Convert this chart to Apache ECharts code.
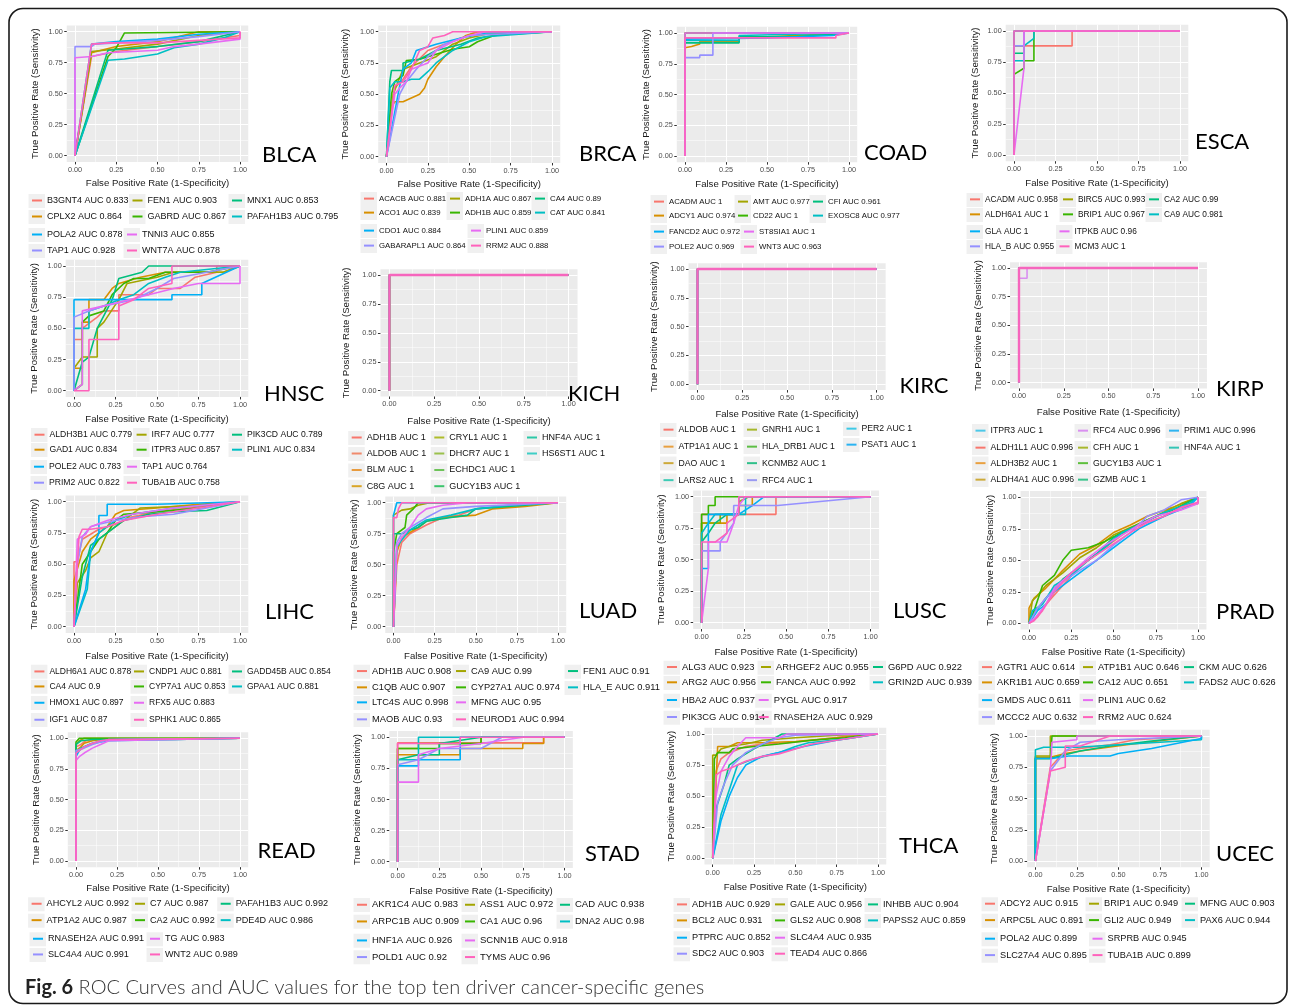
<!DOCTYPE html>
<html>
<head>
<meta charset="utf-8">
<script src="https://cdn.jsdelivr.net/npm/echarts@6/dist/echarts.min.js"></script>
<style>
html, body { margin: 0; padding: 0; background: #fff; }
#main { width: 1292px; height: 1006px; }
</style>
</head>
<body>
<div id="main"></div>
<script>
// tick values (ggplot style: major + minor grid)
const majorTicks = [0, 0.25, 0.5, 0.75, 1];
const minorTicks = [0.125, 0.375, 0.625, 0.875];

// ggplot default hue palette for 10 levels
const hue10 = ['#F8766D', '#D89000', '#A3A500', '#39B600', '#00BF7D', '#00BFC4', '#00B0F6', '#9590FF', '#E76BF3', '#FF62BC'];
const kichColors = ['#F8766D', '#F08A6C', '#E89B3E', '#D9A526', '#AEBC2A', '#9BC14C', '#6EC35A', '#3BC46C', '#2CC8A7', '#3ECEC6'];
const kircColors = ['#F8766D', '#E8A040', '#CDA93A', '#3ECBB5', '#A6B82C', '#5DBE45', '#2FC08A', '#9A9AF2', '#3DC9E6', '#2AB3F2'];
const kirpColors = ['#4CC8E8', '#F8766D', '#E9A040', '#CDAA3A', '#D98FF0', '#A8B82E', '#5DBF3C', '#36C38A', '#2FB4F0', '#35C5B5'];
const hiddenColor = '#F665BD';

// every AUC = 1 curve
const perfect = [[0, 0], [0, 1], [1, 1]];

// ---- BLCA
const blcaGenes = ['B3GNT4', 'CPLX2', 'FEN1', 'GABRD', 'MNX1', 'PAFAH1B3', 'POLA2', 'TAP1', 'TNNI3', 'WNT7A'];
const blcaAuc = [0.833, 0.864, 0.903, 0.867, 0.853, 0.795, 0.878, 0.928, 0.855, 0.878];
const blcaRoc = [
  [[0, 0], [0.1, 0.8], [0.25, 0.84], [0.5, 0.88], [0.75, 0.92], [1, 0.97], [1, 1]],
  [[0, 0], [0.1, 0.83], [0.25, 0.88], [0.5, 0.92], [0.75, 1], [1, 1]],
  [[0, 0], [0.1, 0.84], [0.25, 0.86], [0.5, 0.9], [0.75, 0.97], [1, 1]],
  [[0, 0], [0.2, 0.8], [0.25, 0.87], [0.3, 0.99], [1, 1]],
  [[0, 0], [0.2, 0.85], [0.3, 0.86], [0.5, 0.88], [0.75, 0.92], [1, 1]],
  [[0, 0], [0.2, 0.77], [0.3, 0.78], [0.4, 0.8], [0.5, 0.82], [0.6, 0.87], [0.75, 0.9], [0.9, 0.95], [1, 1]],
  [[0, 0], [0.1, 0.9], [0.25, 0.92], [0.5, 0.94], [0.75, 0.98], [1, 1]],
  [[0, 0], [0, 0.88], [0.1, 0.88], [0.12, 0.9], [0.5, 0.93], [0.75, 0.96], [1, 1]],
  [[0, 0], [0, 0.79], [0.1, 0.8], [0.2, 0.83], [0.5, 0.85], [0.6, 0.88], [0.75, 0.9], [1, 0.94], [1, 1]],
  [[0, 0], [0.1, 0.9], [0.2, 0.91], [0.5, 0.91], [0.75, 0.93], [1, 0.95], [1, 1]]
];

// ---- BRCA
const brcaGenes = ['ACACB', 'ACO1', 'ADH1A', 'ADH1B', 'CA4', 'CAT', 'CDO1', 'GABARAPL1', 'PLIN1', 'RRM2'];
const brcaAuc = [0.881, 0.839, 0.867, 0.859, 0.89, 0.841, 0.884, 0.864, 0.859, 0.888];
const brcaRoc = [
  [[0, 0], [0.05, 0.55], [0.1, 0.62], [0.15, 0.72], [0.25, 0.85], [0.35, 0.9], [0.45, 0.95], [0.55, 1], [1, 1]],
  [[0, 0], [0.03, 0.4], [0.05, 0.44], [0.1, 0.44], [0.15, 0.47], [0.2, 0.5], [0.23, 0.55], [0.25, 0.62], [0.3, 0.72], [0.35, 0.8], [0.42, 0.9], [0.48, 0.97], [0.55, 1], [1, 1]],
  [[0, 0], [0.04, 0.5], [0.1, 0.7], [0.2, 0.75], [0.3, 0.8], [0.4, 0.9], [0.5, 0.95], [0.6, 0.98], [1, 1]],
  [[0, 0], [0.03, 0.5], [0.05, 0.6], [0.1, 0.65], [0.12, 0.77], [0.2, 0.78], [0.3, 0.82], [0.4, 0.86], [0.5, 0.88], [0.55, 0.92], [0.65, 0.97], [0.75, 0.98], [1, 1]],
  [[0, 0], [0.02, 0.6], [0.03, 0.69], [0.1, 0.69], [0.1, 0.75], [0.2, 0.78], [0.3, 0.85], [0.45, 0.9], [0.55, 0.95], [0.7, 0.98], [1, 1]],
  [[0, 0], [0.02, 0.55], [0.05, 0.6], [0.1, 0.6], [0.15, 0.62], [0.2, 0.62], [0.25, 0.68], [0.3, 0.75], [0.4, 0.85], [0.5, 0.92], [0.6, 0.96], [1, 1]],
  [[0, 0], [0.07, 0.5], [0.1, 0.7], [0.15, 0.75], [0.18, 0.85], [0.3, 0.9], [0.45, 0.95], [0.6, 0.99], [1, 1]],
  [[0, 0], [0.08, 0.5], [0.12, 0.6], [0.18, 0.7], [0.25, 0.8], [0.35, 0.9], [0.5, 0.97], [1, 1]],
  [[0, 0], [0.05, 0.5], [0.08, 0.55], [0.12, 0.6], [0.15, 0.7], [0.25, 0.75], [0.3, 0.85], [0.4, 0.92], [0.5, 0.97], [0.6, 1], [1, 1]],
  [[0, 0], [0.05, 0.57], [0.1, 0.6], [0.15, 0.7], [0.2, 0.85], [0.25, 0.88], [0.28, 0.95], [0.35, 0.97], [0.4, 1], [1, 1]]
];

// ---- COAD
const coadGenes = ['ACADM', 'ADCY1', 'AMT', 'CD22', 'CFI', 'EXOSC8', 'FANCD2', 'POLE2', 'ST8SIA1', 'WNT3'];
const coadAuc = [1, 0.974, 0.977, 1, 0.961, 0.977, 0.972, 0.969, 1, 0.963];
const coadRoc = [
  perfect,
  [[0, 0], [0, 0.88], [0.04, 0.89], [0.09, 0.91], [0.09, 0.93], [0.33, 0.93], [0.33, 0.96], [0.67, 0.97], [1, 1]],
  [[0, 0], [0, 0.96], [0.33, 0.96], [0.5, 0.97], [1, 1]],
  perfect,
  [[0, 0], [0, 0.92], [0.33, 0.92], [0.33, 0.97], [0.67, 0.97], [1, 1]],
  [[0, 0], [0, 0.94], [0.33, 0.94], [0.33, 0.98], [1, 1]],
  [[0, 0], [0, 0.95], [0.5, 0.96], [0.9, 0.98], [1, 1]],
  [[0, 0], [0, 0.8], [0.09, 0.8], [0.09, 0.82], [0.17, 0.82], [0.17, 1], [1, 1]],
  perfect,
  [[0, 0], [0, 0.96], [0.5, 0.96], [0.92, 0.96], [0.92, 0.98], [1, 1]]
];

// ---- ESCA
const escaGenes = ['ACADM', 'ALDH6A1', 'BIRC5', 'BRIP1', 'CA2', 'CA9', 'GLA', 'HLA_B', 'ITPKB', 'MCM3'];
const escaAuc = [0.958, 1, 0.993, 0.967, 0.99, 0.981, 1, 0.955, 0.96, 1];
const escaRoc = [
  [[0, 0], [0, 0.88], [0.35, 0.88], [0.35, 1], [1, 1]],
  perfect,
  [[0, 0], [0, 0.88], [0.06, 0.88], [0.06, 1], [1, 1]],
  [[0, 0], [0, 0.65], [0.06, 0.7], [0.06, 0.76], [0.12, 0.76], [0.12, 1], [1, 1]],
  [[0, 0], [0, 0.82], [0.06, 0.82], [0.06, 1], [1, 1]],
  [[0, 0], [0, 0.76], [0.06, 0.76], [0.06, 0.88], [0.12, 0.94], [0.12, 1], [1, 1]],
  perfect,
  [[0, 0], [0, 0.88], [0.06, 0.88], [0.06, 1], [1, 1]],
  [[0, 0], [0.06, 0.7], [0.06, 1], [1, 1]],
  perfect
];

// ---- HNSC
const hnscGenes = ['ALDH3B1', 'GAD1', 'IRF7', 'ITPR3', 'PIK3CD', 'PLIN1', 'POLE2', 'PRIM2', 'TAP1', 'TUBA1B'];
const hnscAuc = [0.779, 0.834, 0.777, 0.857, 0.789, 0.834, 0.783, 0.822, 0.764, 0.758];
const hnscRoc = [
  [[0, 0], [0, 0.41], [0.05, 0.41], [0.05, 0.5], [0.14, 0.59], [0.18, 0.64], [0.27, 0.64], [0.27, 0.77], [0.45, 0.77], [0.5, 0.82], [0.64, 0.82], [0.73, 0.91], [0.86, 0.95], [0.86, 1], [1, 1]],
  [[0, 0], [0, 0.18], [0.05, 0.18], [0.05, 0.55], [0.09, 0.55], [0.09, 0.73], [0.18, 0.73], [0.23, 0.82], [0.27, 0.86], [0.4, 0.91], [0.55, 0.95], [0.9, 0.95], [1, 1]],
  [[0, 0], [0, 0.18], [0.05, 0.27], [0.14, 0.27], [0.14, 0.5], [0.18, 0.55], [0.27, 0.73], [0.32, 0.86], [0.5, 0.91], [0.6, 0.95], [0.9, 0.95], [1, 1]],
  [[0, 0], [0.05, 0.05], [0.05, 0.55], [0.09, 0.6], [0.18, 0.64], [0.23, 0.77], [0.3, 0.86], [0.36, 0.9], [0.45, 0.9], [0.55, 0.95], [0.8, 0.95], [1, 1]],
  [[0, 0], [0.05, 0.23], [0.09, 0.27], [0.14, 0.5], [0.23, 0.73], [0.27, 0.9], [0.41, 0.95], [0.45, 1], [1, 1]],
  [[0, 0], [0, 0.5], [0.09, 0.5], [0.09, 0.64], [0.18, 0.68], [0.27, 0.73], [0.36, 0.77], [0.45, 0.86], [0.55, 0.91], [0.64, 0.95], [1, 1]],
  [[0, 0], [0, 0.73], [0.59, 0.73], [0.59, 0.77], [0.77, 0.77], [0.77, 0.86], [1, 1]],
  [[0, 0], [0, 0.59], [0.09, 0.64], [0.18, 0.68], [0.36, 0.73], [0.5, 0.82], [0.6, 0.9], [1, 1]],
  [[0, 0], [0.05, 0.05], [0.05, 0.64], [0.18, 0.68], [0.3, 0.72], [0.45, 0.77], [0.6, 0.82], [0.75, 0.86], [1, 0.86], [1, 1]],
  [[0, 0], [0.09, 0], [0.09, 0.41], [0.27, 0.41], [0.27, 0.68], [0.36, 0.73], [0.45, 0.82], [0.59, 0.86], [0.59, 1], [1, 1]]
];

// ---- KICH / KIRC / KIRP (legend order as printed)
const kichGenes = ['ADH1B', 'ALDOB', 'BLM', 'C8G', 'CRYL1', 'DHCR7', 'ECHDC1', 'GUCY1B3', 'HNF4A', 'HS6ST1'];
const kichAuc = [1, 1, 1, 1, 1, 1, 1, 1, 1, 1];
const kichRoc = [perfect, perfect, perfect, perfect, perfect, perfect, perfect, perfect, perfect, perfect];

const kircGenes = ['ALDOB', 'ATP1A1', 'DAO', 'LARS2', 'GNRH1', 'HLA_DRB1', 'KCNMB2', 'RFC4', 'PER2', 'PSAT1'];
const kircAuc = [1, 1, 1, 1, 1, 1, 1, 1, 1, 1];
const kircRoc = [perfect, perfect, perfect, perfect, perfect, perfect, perfect, perfect, perfect, perfect];

const kirpGenes = ['ITPR3', 'ALDH1L1', 'ALDH3B2', 'ALDH4A1', 'RFC4', 'CFH', 'GUCY1B3', 'GZMB', 'PRIM1', 'HNF4A'];
const kirpAuc = [1, 0.996, 1, 0.996, 0.996, 1, 1, 1, 0.996, 1];
const kirpRoc = [perfect, perfect, perfect, perfect,
  [[0, 0], [0, 0.91], [0.045, 0.91], [0.045, 1], [1, 1]],
  perfect, perfect, perfect, perfect, perfect];

// ---- LIHC
const lihcGenes = ['ALDH6A1', 'CA4', 'CNDP1', 'CYP7A1', 'GADD45B', 'GPAA1', 'HMOX1', 'IGF1', 'RFX5', 'SPHK1'];
const lihcAuc = [0.878, 0.9, 0.881, 0.853, 0.854, 0.881, 0.897, 0.87, 0.883, 0.865];
const lihcRoc = [
  [[0, 0], [0, 0.52], [0.02, 0.52], [0.05, 0.7], [0.15, 0.78], [0.25, 0.82], [0.35, 0.88], [0.5, 0.92], [0.75, 0.96], [1, 1]],
  [[0, 0], [0, 0.37], [0.05, 0.6], [0.1, 0.7], [0.2, 0.8], [0.25, 0.9], [0.3, 0.93], [0.5, 0.95], [0.75, 0.98], [1, 1]],
  [[0, 0], [0.02, 0.35], [0.07, 0.45], [0.1, 0.55], [0.15, 0.6], [0.2, 0.75], [0.3, 0.85], [0.4, 0.95], [0.75, 0.97], [1, 1]],
  [[0, 0], [0.05, 0.5], [0.1, 0.6], [0.15, 0.7], [0.2, 0.75], [0.25, 0.85], [0.3, 0.9], [0.5, 0.92], [0.75, 0.95], [1, 1]],
  [[0, 0], [0.05, 0.4], [0.1, 0.65], [0.2, 0.75], [0.3, 0.85], [0.45, 0.9], [0.6, 0.92], [0.8, 0.93], [1, 1]],
  [[0, 0], [0.08, 0.3], [0.1, 0.6], [0.15, 0.75], [0.25, 0.85], [0.35, 0.9], [0.6, 0.95], [1, 1]],
  [[0, 0], [0.07, 0.3], [0.1, 0.6], [0.15, 0.75], [0.15, 0.89], [0.2, 0.89], [0.2, 0.98], [0.5, 0.98], [0.75, 0.99], [1, 1]],
  [[0, 0], [0.02, 0.5], [0.05, 0.72], [0.1, 0.8], [0.15, 0.82], [0.25, 0.85], [0.4, 0.88], [0.6, 0.9], [0.8, 0.95], [1, 1]],
  [[0, 0], [0.02, 0.7], [0.07, 0.74], [0.1, 0.8], [0.2, 0.85], [0.35, 0.9], [0.6, 0.95], [1, 1]],
  [[0, 0], [0.03, 0.72], [0.05, 0.78], [0.1, 0.78], [0.2, 0.8], [0.3, 0.85], [0.5, 0.9], [0.75, 0.95], [1, 1]]
];

// ---- LUAD
const luadGenes = ['ADH1B', 'C1QB', 'CA9', 'CYP27A1', 'FEN1', 'HLA_E', 'LTC4S', 'MAOB', 'MFNG', 'NEUROD1'];
const luadAuc = [0.908, 0.907, 0.99, 0.974, 0.91, 0.911, 0.998, 0.93, 0.95, 0.994];
const luadRoc = [
  [[0, 0], [0.02, 0.5], [0.05, 0.68], [0.1, 0.75], [0.2, 0.82], [0.3, 0.88], [0.4, 0.9], [0.5, 0.95], [0.75, 0.98], [1, 1]],
  [[0, 0], [0.02, 0.6], [0.05, 0.72], [0.15, 0.8], [0.2, 0.85], [0.3, 0.88], [0.5, 0.9], [0.6, 0.95], [0.8, 0.97], [1, 1]],
  [[0, 0], [0, 0.9], [0.05, 0.94], [0.1, 0.95], [0.15, 0.98], [0.22, 1], [1, 1]],
  [[0, 0], [0, 0.6], [0.02, 0.75], [0.07, 0.8], [0.08, 0.9], [0.12, 0.95], [0.15, 1], [1, 1]],
  [[0, 0], [0, 0.75], [0.05, 0.75], [0.1, 0.78], [0.15, 0.8], [0.2, 0.85], [0.35, 0.88], [0.45, 0.9], [0.5, 0.95], [0.7, 0.97], [1, 1]],
  [[0, 0], [0.02, 0.64], [0.05, 0.7], [0.1, 0.78], [0.15, 0.82], [0.2, 0.86], [0.35, 0.9], [0.5, 0.95], [0.7, 0.98], [1, 1]],
  [[0, 0], [0, 0.9], [0.02, 1], [1, 1]],
  [[0, 0], [0.02, 0.68], [0.05, 0.75], [0.1, 0.8], [0.2, 0.88], [0.3, 0.95], [0.5, 0.97], [1, 1]],
  [[0, 0], [0.02, 0.65], [0.05, 0.72], [0.1, 0.8], [0.15, 0.9], [0.2, 0.95], [0.3, 0.98], [0.45, 1], [1, 1]],
  [[0, 0], [0, 0.88], [0.02, 0.88], [0.03, 0.95], [0.05, 1], [1, 1]]
];

// ---- LUSC
const luscGenes = ['ALG3', 'ARG2', 'ARHGEF2', 'FANCA', 'G6PD', 'GRIN2D', 'HBA2', 'PIK3CG', 'PYGL', 'RNASEH2A'];
const luscAuc = [0.923, 0.956, 0.955, 0.992, 0.922, 0.939, 0.937, 0.914, 0.917, 0.929];
const luscRoc = [
  [[0, 0], [0, 0.86], [0.44, 0.86], [0.44, 1], [1, 1]],
  [[0, 0], [0, 0.79], [0.15, 0.79], [0.15, 0.86], [0.22, 0.86], [0.22, 0.93], [0.3, 0.93], [0.3, 1], [1, 1]],
  [[0, 0], [0, 0.79], [0.11, 0.79], [0.11, 0.86], [0.22, 0.86], [0.22, 0.96], [0.28, 1], [1, 1]],
  [[0, 0], [0, 0.86], [0.04, 0.86], [0.04, 0.93], [0.08, 0.93], [0.08, 1], [1, 1]],
  [[0, 0], [0, 0.64], [0.04, 0.71], [0.08, 0.79], [0.15, 0.86], [0.22, 0.86], [0.22, 1], [1, 1]],
  [[0, 0], [0, 0.71], [0.04, 0.79], [0.08, 0.86], [0.26, 0.86], [0.26, 1], [1, 1]],
  [[0, 0], [0, 0.43], [0.04, 0.43], [0.04, 0.86], [0.22, 0.86], [0.3, 0.93], [0.37, 1], [1, 1]],
  [[0, 0], [0, 0.57], [0.11, 0.57], [0.11, 0.64], [0.19, 0.79], [0.19, 0.93], [0.45, 0.93], [1, 1]],
  [[0, 0], [0.04, 0.43], [0.04, 0.64], [0.15, 0.64], [0.19, 0.79], [0.22, 0.93], [0.26, 1], [1, 1]],
  [[0, 0], [0, 0.64], [0.08, 0.64], [0.15, 0.71], [0.15, 0.79], [0.22, 0.86], [0.22, 1], [1, 1]]
];

// ---- PRAD
const pradGenes = ['AGTR1', 'AKR1B1', 'ATP1B1', 'CA12', 'CKM', 'FADS2', 'GMDS', 'MCCC2', 'PLIN1', 'RRM2'];
const pradAuc = [0.614, 0.659, 0.646, 0.651, 0.626, 0.626, 0.611, 0.632, 0.62, 0.624];
const pradRoc = [
  [[0, 0], [0.05, 0.05], [0.1, 0.15], [0.2, 0.3], [0.3, 0.45], [0.4, 0.55], [0.5, 0.65], [0.6, 0.75], [0.7, 0.8], [0.8, 0.85], [0.9, 0.92], [1, 0.95], [1, 1]],
  [[0, 0], [0, 0.12], [0.03, 0.2], [0.1, 0.28], [0.2, 0.42], [0.3, 0.55], [0.4, 0.62], [0.5, 0.72], [0.6, 0.78], [0.7, 0.85], [0.85, 0.92], [1, 1]],
  [[0, 0], [0.02, 0.18], [0.05, 0.22], [0.1, 0.3], [0.2, 0.4], [0.3, 0.52], [0.4, 0.6], [0.5, 0.7], [0.6, 0.76], [0.75, 0.85], [0.9, 0.95], [1, 1]],
  [[0, 0], [0.03, 0.1], [0.08, 0.3], [0.15, 0.38], [0.2, 0.5], [0.25, 0.58], [0.35, 0.6], [0.45, 0.65], [0.55, 0.72], [0.7, 0.82], [0.85, 0.9], [1, 1]],
  [[0, 0], [0.03, 0.08], [0.1, 0.2], [0.2, 0.35], [0.3, 0.45], [0.4, 0.55], [0.5, 0.68], [0.6, 0.75], [0.75, 0.85], [0.9, 0.93], [1, 1]],
  [[0, 0], [0.02, 0.1], [0.08, 0.15], [0.15, 0.3], [0.25, 0.38], [0.35, 0.5], [0.45, 0.6], [0.55, 0.72], [0.65, 0.78], [0.8, 0.88], [0.95, 0.95], [1, 1]],
  [[0, 0], [0.05, 0.1], [0.1, 0.15], [0.15, 0.25], [0.25, 0.35], [0.35, 0.45], [0.45, 0.55], [0.55, 0.65], [0.65, 0.75], [0.8, 0.85], [0.95, 0.93], [1, 1]],
  [[0, 0], [0.05, 0.12], [0.1, 0.2], [0.2, 0.33], [0.3, 0.42], [0.4, 0.5], [0.5, 0.62], [0.6, 0.72], [0.7, 0.85], [0.8, 0.9], [0.9, 0.98], [1, 1]],
  [[0, 0], [0.04, 0.05], [0.1, 0.15], [0.15, 0.28], [0.25, 0.4], [0.35, 0.52], [0.45, 0.62], [0.55, 0.7], [0.65, 0.78], [0.75, 0.85], [0.9, 0.9], [1, 0.95], [1, 1]],
  [[0, 0], [0.03, 0.02], [0.08, 0.1], [0.15, 0.25], [0.25, 0.4], [0.35, 0.5], [0.5, 0.63], [0.6, 0.72], [0.7, 0.8], [0.8, 0.85], [0.9, 0.92], [1, 0.96], [1, 1]]
];

// ---- READ
const readGenes = ['AHCYL2', 'ATP1A2', 'C7', 'CA2', 'PAFAH1B3', 'PDE4D', 'RNASEH2A', 'SLC4A4', 'TG', 'WNT2'];
const readAuc = [0.992, 0.987, 0.987, 0.992, 0.992, 0.986, 0.991, 0.991, 0.983, 0.989];
const readRoc = [
  [[0, 0], [0, 0.93], [0.03, 0.95], [0.06, 0.98], [0.1, 0.99], [1, 1]],
  [[0, 0], [0, 0.9], [0.03, 0.93], [0.05, 0.96], [0.1, 0.98], [0.15, 0.99], [1, 1]],
  [[0, 0], [0, 0.95], [0.02, 0.98], [0.05, 1], [1, 1]],
  [[0, 0], [0, 0.97], [0.02, 1], [1, 1]],
  [[0, 0], [0, 0.95], [0.03, 0.98], [0.1, 0.99], [0.6, 0.99], [1, 1]],
  [[0, 0], [0, 0.88], [0.03, 0.92], [0.08, 0.95], [0.15, 0.98], [0.25, 0.99], [1, 1]],
  [[0, 0], [0, 0.85], [0.02, 0.9], [0.05, 0.93], [0.1, 0.96], [0.2, 0.98], [1, 1]],
  [[0, 0], [0, 0.9], [0.05, 0.92], [0.1, 0.95], [0.15, 0.97], [0.2, 0.99], [1, 1]],
  [[0, 0], [0, 0.82], [0.02, 0.85], [0.05, 0.88], [0.1, 0.92], [0.15, 0.95], [0.2, 0.98], [1, 1]],
  [[0, 0], [0, 0.88], [0.05, 0.93], [0.1, 0.96], [0.15, 0.98], [0.2, 0.99], [1, 1]]
];

// ---- STAD
const stadGenes = ['AKR1C4', 'ARPC1B', 'ASS1', 'CA1', 'CAD', 'DNA2', 'HNF1A', 'POLD1', 'SCNN1B', 'TYMS'];
const stadAuc = [0.983, 0.909, 0.972, 0.96, 0.938, 0.98, 0.926, 0.92, 0.918, 0.96];
const stadRoc = [
  [[0, 0], [0, 0.955], [0.875, 0.955], [0.875, 1], [1, 1]],
  [[0, 0], [0, 0.86], [0.375, 0.86], [0.375, 0.91], [0.75, 0.91], [0.75, 0.95], [0.875, 0.95], [0.875, 1], [1, 1]],
  [[0, 0], [0, 0.91], [0.125, 0.91], [0.125, 0.95], [0.5, 0.95], [0.5, 1], [1, 1]],
  [[0, 0], [0, 0.91], [0.25, 0.91], [0.25, 0.95], [0.5, 0.95], [0.5, 1], [1, 1]],
  [[0, 0], [0, 0.82], [0.125, 0.86], [0.25, 0.86], [0.25, 0.95], [0.5, 1], [1, 1]],
  [[0, 0], [0, 0.82], [0.125, 0.82], [0.125, 1], [1, 1]],
  [[0, 0], [0, 0.77], [0.125, 0.77], [0.125, 0.82], [0.375, 0.82], [0.375, 1], [1, 1]],
  [[0, 0], [0, 0.78], [0.125, 0.82], [0.25, 0.91], [0.5, 0.91], [0.625, 1], [1, 1]],
  [[0, 0], [0, 0.64], [0.125, 0.64], [0.125, 0.86], [0.25, 0.91], [0.5, 0.95], [0.75, 1], [1, 1]],
  [[0, 0], [0, 0.95], [0.375, 0.95], [0.375, 1], [1, 1]]
];

// ---- THCA
const thcaGenes = ['ADH1B', 'BCL2', 'GALE', 'GLS2', 'INHBB', 'PAPSS2', 'PTPRC', 'SDC2', 'SLC4A4', 'TEAD4'];
const thcaAuc = [0.929, 0.931, 0.956, 0.908, 0.904, 0.859, 0.852, 0.903, 0.935, 0.866];
const thcaRoc = [
  [[0, 0], [0.02, 0.7], [0.05, 0.8], [0.1, 0.85], [0.2, 0.9], [0.3, 0.92], [0.45, 0.93], [0.6, 0.95], [0.8, 0.98], [1, 1]],
  [[0, 0], [0.02, 0.6], [0.03, 0.9], [0.1, 0.9], [0.15, 0.93], [0.3, 0.93], [0.5, 0.94], [0.75, 0.97], [1, 1]],
  [[0, 0], [0, 0.83], [0.02, 0.83], [0.05, 0.88], [0.1, 0.9], [0.2, 0.92], [0.3, 0.95], [0.5, 0.97], [0.75, 0.99], [1, 1]],
  [[0, 0], [0.01, 0.8], [0.03, 0.85], [0.1, 0.85], [0.12, 0.88], [0.25, 0.9], [0.4, 0.92], [0.6, 0.95], [0.8, 0.97], [1, 1]],
  [[0, 0], [0.02, 0.4], [0.07, 0.6], [0.1, 0.75], [0.15, 0.8], [0.25, 0.88], [0.35, 0.95], [0.42, 1], [1, 1]],
  [[0, 0], [0.05, 0.35], [0.1, 0.55], [0.15, 0.75], [0.25, 0.8], [0.4, 0.85], [0.5, 0.9], [0.58, 0.93], [0.8, 0.96], [1, 1]],
  [[0, 0], [0.05, 0.3], [0.1, 0.5], [0.15, 0.65], [0.2, 0.75], [0.3, 0.82], [0.4, 0.85], [0.55, 0.9], [0.75, 0.95], [1, 1]],
  [[0, 0], [0.03, 0.45], [0.07, 0.6], [0.12, 0.75], [0.2, 0.85], [0.3, 0.92], [0.4, 0.97], [0.5, 0.99], [1, 1]],
  [[0, 0], [0.02, 0.5], [0.05, 0.7], [0.1, 0.82], [0.15, 0.9], [0.2, 0.97], [0.4, 0.97], [0.45, 1], [1, 1]],
  [[0, 0], [0.02, 0.67], [0.05, 0.7], [0.1, 0.72], [0.2, 0.78], [0.3, 0.82], [0.4, 0.84], [0.5, 0.88], [0.6, 0.92], [0.8, 0.96], [1, 1]]
];

// ---- UCEC
const ucecGenes = ['ADCY2', 'ARPC5L', 'BRIP1', 'GLI2', 'MFNG', 'PAX6', 'POLA2', 'SLC27A4', 'SRPRB', 'TUBA1B'];
const ucecAuc = [0.915, 0.891, 0.949, 0.949, 0.903, 0.944, 0.899, 0.895, 0.945, 0.899];
const ucecRoc = [
  [[0, 0], [0.09, 0.75], [0.18, 0.88], [0.27, 0.9], [0.45, 0.93], [0.6, 0.97], [1, 1]],
  [[0, 0], [0, 0.83], [0.09, 0.83], [0.18, 0.86], [0.27, 0.88], [0.55, 0.93], [0.8, 0.97], [1, 1]],
  [[0, 0], [0, 0.84], [0.09, 0.84], [0.09, 1], [1, 1]],
  [[0, 0], [0, 0.82], [0.09, 0.82], [0.1, 1], [1, 1]],
  [[0, 0], [0, 0.82], [0.09, 0.82], [0.18, 0.85], [0.27, 0.88], [0.45, 0.92], [0.7, 0.96], [1, 1]],
  [[0, 0], [0, 0.89], [0.05, 0.91], [0.25, 0.91], [0.5, 0.93], [0.75, 0.95], [1, 0.97], [1, 1]],
  [[0, 0], [0, 0.82], [0.1, 0.82], [0.2, 0.84], [0.45, 0.84], [0.5, 0.86], [0.6, 0.88], [0.7, 0.9], [1, 0.98], [1, 1]],
  [[0, 0], [0.09, 0.72], [0.18, 0.88], [0.27, 0.95], [0.5, 0.97], [1, 1]],
  [[0, 0], [0.09, 0.72], [0.1, 0.95], [0.25, 0.97], [0.25, 1], [1, 1]],
  [[0, 0], [0.09, 0.72], [0.18, 0.75], [0.18, 0.92], [0.27, 0.92], [0.45, 1], [1, 1]]
];

const panels = [
  { key: 'BLCA', genes: blcaGenes, auc: blcaAuc, roc: blcaRoc, colors: hue10 },
  { key: 'BRCA', genes: brcaGenes, auc: brcaAuc, roc: brcaRoc, colors: hue10 },
  { key: 'COAD', genes: coadGenes, auc: coadAuc, roc: coadRoc, colors: hue10 },
  { key: 'ESCA', genes: escaGenes, auc: escaAuc, roc: escaRoc, colors: hue10 },
  { key: 'HNSC', genes: hnscGenes, auc: hnscAuc, roc: hnscRoc, colors: hue10 },
  { key: 'KICH', genes: kichGenes, auc: kichAuc, roc: kichRoc, colors: kichColors, hidden: perfect },
  { key: 'KIRC', genes: kircGenes, auc: kircAuc, roc: kircRoc, colors: kircColors, hidden: perfect },
  { key: 'KIRP', genes: kirpGenes, auc: kirpAuc, roc: kirpRoc, colors: kirpColors, hidden: perfect },
  { key: 'LIHC', genes: lihcGenes, auc: lihcAuc, roc: lihcRoc, colors: hue10 },
  { key: 'LUAD', genes: luadGenes, auc: luadAuc, roc: luadRoc, colors: hue10 },
  { key: 'LUSC', genes: luscGenes, auc: luscAuc, roc: luscRoc, colors: hue10 },
  { key: 'PRAD', genes: pradGenes, auc: pradAuc, roc: pradRoc, colors: hue10 },
  { key: 'READ', genes: readGenes, auc: readAuc, roc: readRoc, colors: hue10 },
  { key: 'STAD', genes: stadGenes, auc: stadAuc, roc: stadRoc, colors: hue10 },
  { key: 'THCA', genes: thcaGenes, auc: thcaAuc, roc: thcaRoc, colors: hue10 },
  { key: 'UCEC', genes: ucecGenes, auc: ucecAuc, roc: ucecRoc, colors: hue10 }
];

// page layout of each panel (pixel positions of 0 and 1 on each axis, titles, legend slots)
const frames = {
  BLCA: { x: [75, 240], y: [155.7, 31.7], yt: 36, xt: 183.5, tag: [262, 155.5], rows: [201, 217, 235, 251], colA: [47, 147.5, 247], colB: [47, 142], lf: 9 },
  BRCA: { x: [386.5, 552], y: [156.7, 31.7], yt: 346, xt: 184.3, tag: [579, 155], rows: [199, 213, 231, 246], colA: [379, 465, 550], colB: [379, 486], lf: 7.8 },
  COAD: { x: [685, 849], y: [156, 33], yt: 647, xt: 183.7, tag: [864, 154], rows: [202, 216, 232, 247], colA: [669, 753, 828], colB: [669, 759], lf: 7.8 },
  ESCA: { x: [1014, 1180], y: [155, 31], yt: 976, xt: 183.3, tag: [1195, 143.3], rows: [200, 215, 232, 247], colA: [985, 1078, 1164], colB: [985, 1074.5], lf: 8.3 },
  HNSC: { x: [74, 240], y: [390.7, 266], yt: 35, xt: 419, tag: [264, 395], rows: [435, 450, 467, 483], colA: [49.5, 151.6, 247], colB: [49, 142], lf: 8.6 },
  KICH: { x: [389.4, 568.6], y: [390.7, 275], yt: 347, xt: 420.7, tag: [568, 395], rows: [438, 454, 470.5, 486.7], cols: [366.7, 449.3, 542], lf: 9 },
  KIRC: { x: [697.5, 876.7], y: [384.3, 269], yt: 655, xt: 414.3, tag: [899.4, 387], rows: [430, 447, 463.5, 480.5], cols: [678.5, 762, 861.5], rows3: [429, 445], lf: 8.7 },
  KIRP: { x: [1019, 1198], y: [382.7, 268], yt: 979, xt: 411.7, tag: [1216, 390], rows: [431, 448, 463.5, 480], cols: [990.5, 1093, 1184], lf: 8.7 },
  LIHC: { x: [74, 240], y: [626.7, 501.7], yt: 35, xt: 655.7, tag: [265, 613], rows: [671.7, 686.7, 703, 720], colA: [49.4, 149, 247], colB: [49.4, 149], lf: 8.5 },
  LUAD: { x: [393.5, 558], y: [626.7, 502.7], yt: 355, xt: 655.7, tag: [579, 612], rows: [671.7, 688, 703, 720], colA: [372, 471, 583], colB: [372, 471], lf: 9.3 },
  LUSC: { x: [701.6, 870.6], y: [622.7, 496.7], yt: 662, xt: 652.3, tag: [893, 611.5], rows: [667.7, 683, 700.7, 717.7], colA: [682, 776, 888], colB: [682, 773.7], lf: 9.4 },
  PRAD: { x: [1029, 1198], y: [623.3, 497.3], yt: 991, xt: 651.7, tag: [1216, 612.7], rows: [667.7, 683, 700.7, 717.7], colA: [997, 1098, 1199], colB: [997, 1098], lf: 9.2 },
  READ: { x: [76, 240], y: [861, 738.3], yt: 37, xt: 888.3, tag: [257.5, 851.7], rows: [904.3, 920.7, 939.3, 955], colA: [46.6, 150, 235.7], colB: [48, 165], lf: 9.1 },
  STAD: { x: [397.6, 564.5], y: [861.7, 737.3], yt: 358, xt: 890.7, tag: [585, 854.5], rows: [905, 921.7, 940.7, 957.3], colA: [372, 480, 575], colB: [372, 480], lf: 9.5 },
  THCA: { x: [712.7, 878], y: [858.3, 734], yt: 672, xt: 886.7, tag: [899, 846.7], rows: [905, 921, 938.3, 954.3], colA: [692, 790, 883], colB: [692, 790], lf: 9.2 },
  UCEC: { x: [1035.4, 1201.4], y: [861, 736], yt: 995, xt: 889, tag: [1216, 855], rows: [904.3, 920.7, 939.3, 955.7], colA: [1000, 1104, 1200], colB: [1000, 1107.5], lf: 9.2 }
};

const FONT = 'Liberation Sans';
const TITLE_SIZE = 9.6;
const TICK_SIZE = 7.3;

// where legend entry i of a panel sits: [text x, row centre y]
function legendSlots(f) {
  const out = [];
  for (let i = 0; i < 10; i++) {
    if (f.cols) {
      const c = Math.floor(i / 4), r = i % 4;
      const ry = (c === 2 && f.rows3) ? f.rows3[r] : f.rows[r];
      out.push([f.cols[c], ry]);
    } else if (i < 6) {
      out.push([f.colA[Math.floor(i / 2)], f.rows[i % 2]]);
    } else {
      const j = i - 6;
      out.push([f.colB[Math.floor(j / 2)], f.rows[2 + (j % 2)]]);
    }
  }
  return out;
}

var myChart = echarts.init(document.getElementById('main'));

const grids = [], xAxes = [], yAxes = [], series = [], legends = [], titles = [], boxes = [];

panels.forEach(function (p, k) {
  const f = frames[p.key];
  const w = f.x[1] - f.x[0], h = f.y[0] - f.y[1];
  const left = f.x[0] - 0.05 * w, top = f.y[1] - 0.05 * h;
  const gw = 1.1 * w, gh = 1.1 * h;
  grids.push({ left: left, top: top, width: gw, height: gh, show: true, backgroundColor: '#EBEBEB', borderWidth: 0 });

  const major = function (isX) {
    return {
      type: 'value', gridIndex: k, min: -0.05, max: 1.05,
      axisLine: { show: false, onZero: false },
      axisTick: { show: true, customValues: majorTicks, length: 2.5, lineStyle: { color: '#333', width: 1 } },
      axisLabel: {
        customValues: majorTicks, formatter: v => v.toFixed(2), fontSize: TICK_SIZE,
        color: '#4D4D4D', margin: isX ? 4.5 : 4, fontFamily: FONT
      },
      splitLine: { show: true, lineStyle: { color: '#fff', width: 1.1 } },
      name: isX ? 'False Positive Rate (1-Specificity)' : 'True Positive Rate (Sensitivity)',
      nameLocation: 'middle',
      nameGap: isX ? f.xt - (top + gh) - TITLE_SIZE / 2 : left - f.yt - TITLE_SIZE / 2,
      nameTextStyle: { fontSize: TITLE_SIZE, color: '#1a1a1a', fontFamily: FONT }
    };
  };
  const minor = function () {
    return {
      type: 'value', gridIndex: k, min: -0.05, max: 1.05,
      axisLine: { show: false, onZero: false },
      axisTick: { show: false, customValues: minorTicks },
      axisLabel: { show: false, customValues: minorTicks },
      splitLine: { show: true, lineStyle: { color: '#fff', width: 0.5 } }
    };
  };
  xAxes.push(major(true), minor());
  yAxes.push(major(false), minor());

  const slots = legendSlots(f);
  p.roc.forEach(function (pts, i) {
    const name = p.key + '|' + p.genes[i] + ' AUC ' + p.auc[i];
    const c = p.colors[i];
    series.push({
      type: 'line', name: name, xAxisIndex: 2 * k, yAxisIndex: 2 * k, data: pts,
      symbol: 'none', showSymbol: false, silent: true,
      lineStyle: { width: 1.6, color: c }, itemStyle: { color: c }
    });
    const tx = slots[i][0], ry = slots[i][1];
    legends.push({
      left: tx - 15, top: ry - f.lf / 2 - 0.5, padding: 0, itemWidth: 10, itemHeight: 2,
      icon: 'rect', selectedMode: false, data: [name],
      formatter: n => n.slice(n.indexOf('|') + 1),
      textStyle: { fontSize: f.lf, color: '#111', fontFamily: FONT }
    });
    boxes.push({
      type: 'rect', silent: true, z: -10,
      shape: { x: tx - 18.5, y: ry - 7, width: 16.5, height: 14 },
      style: { fill: '#F0F0F0' }
    });
  });
  // curves of genes whose legend entries fall outside the printed legend
  if (p.hidden) {
    series.push({
      type: 'line', name: p.key + '|more', xAxisIndex: 2 * k, yAxisIndex: 2 * k, data: p.hidden,
      symbol: 'none', showSymbol: false, silent: true,
      lineStyle: { width: 2.4, color: hiddenColor }, itemStyle: { color: hiddenColor }
    });
  }

  titles.push({
    text: p.key, left: f.tag[0], top: f.tag[1] - 12, padding: 0,
    textStyle: { fontFamily: 'Lato', fontSize: 22, fontWeight: 'normal', color: '#000' }
  });
});

titles.push({
  text: '{b|Fig. 6} ROC Curves and AUC values for the top ten driver cancer-specific genes',
  left: 25, top: 977.5, padding: 0,
  textStyle: {
    fontFamily: 'Lato', fontSize: 20, fontWeight: 300, color: '#333',
    rich: { b: { fontFamily: 'Lato', fontSize: 20, fontWeight: 'bold', color: '#222' } }
  }
});

const option = {
  animation: false,
  backgroundColor: '#fff',
  title: titles,
  grid: grids,
  xAxis: xAxes,
  yAxis: yAxes,
  legend: legends,
  series: series,
  graphic: {
    elements: boxes.concat([{
      type: 'rect', silent: true,
      shape: { x: 9, y: 8.5, width: 1278, height: 995, r: 14 },
      style: { fill: 'none', stroke: '#1a1a1a', lineWidth: 1.6 }
    }])
  }
};

option && myChart.setOption(option);
</script>
</body>
</html>
